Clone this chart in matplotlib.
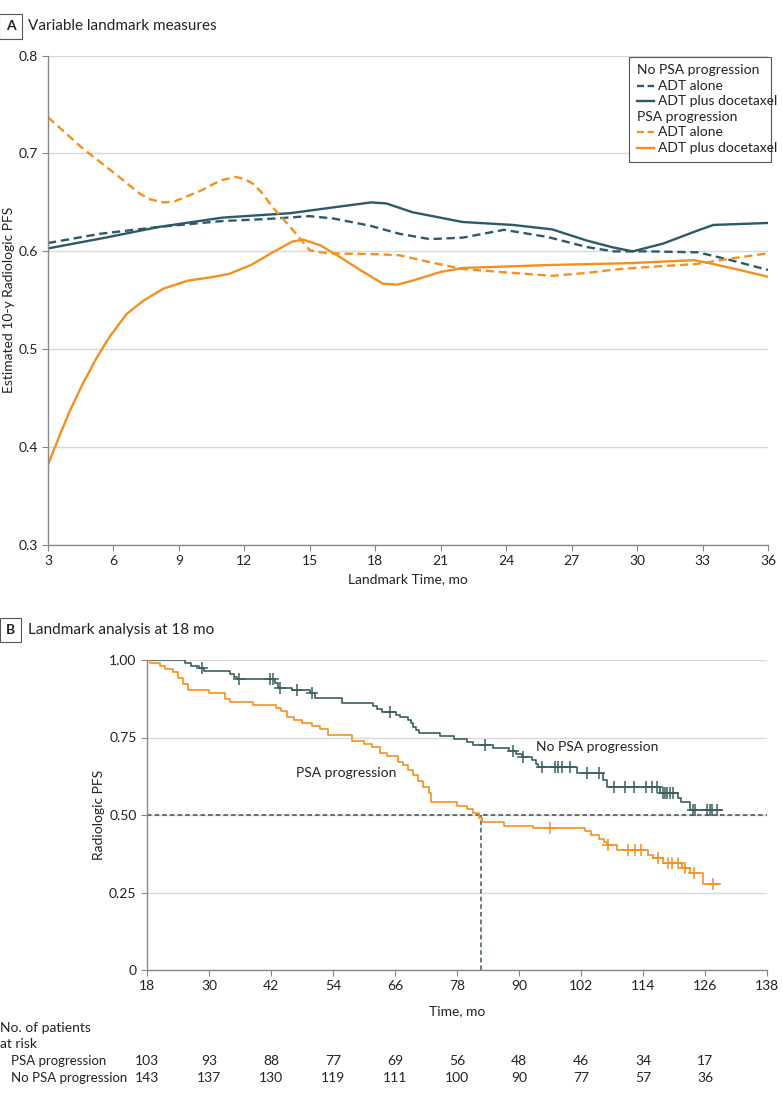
import numpy as np
import matplotlib
matplotlib.use('Agg')
import matplotlib.pyplot as plt
from matplotlib.patches import Rectangle

plt.rcParams['font.family'] = ['Lato', 'DejaVu Sans']
plt.rcParams['font.size'] = 10

# Colours
TEAL = '#2d5a6a'
ORANGE = '#f5901e'
GRID = '#d9d9d9'
TXT = '#222222'
FS = 10

# Panel A: estimated 10-y radiologic PFS by landmark time
np_docet_t = [3, 5.4, 8.1, 11.0, 14.1, 16.1, 17.8, 18.5, 19.7, 22.0, 24.3, 26.1, 27.7,
              28.9, 29.8, 31.2, 32.8, 33.5, 36]
np_docet_v = [0.603, 0.613, 0.625, 0.6345, 0.639, 0.645, 0.650, 0.649, 0.640, 0.630, 0.627,
              0.6225, 0.611, 0.604, 0.600, 0.608, 0.6215, 0.627, 0.629]
np_adt_t = [3, 5.4, 8.1, 11.0, 13.0, 15.0, 16.1, 17.8, 19.1, 20.5, 22.0, 23.9, 25.9, 27.7,
            28.9, 30.5, 32.8, 34.3, 36]
np_adt_v = [0.6085, 0.618, 0.625, 0.631, 0.633, 0.636, 0.6335, 0.626, 0.618, 0.6125, 0.614,
            0.622, 0.6147, 0.6044, 0.600, 0.600, 0.599, 0.591, 0.581]
pp_adt_t = [3, 4.6, 6.15, 7.2, 7.7, 8.3, 8.8, 9.35, 10.0, 10.6, 11.0, 11.6, 12.0, 12.4, 12.8,
            13.3, 14.1, 15.0, 15.8, 18.2, 19.1, 20.5, 22.0, 24.3, 26.1, 27.7, 29.2, 31.2,
            32.7, 34.4, 36]
pp_adt_v = [0.737, 0.705, 0.678, 0.659, 0.653, 0.650, 0.651, 0.656, 0.662, 0.669, 0.673,
            0.676, 0.674, 0.669, 0.660, 0.645, 0.625, 0.601, 0.598, 0.597, 0.596, 0.589,
            0.582, 0.578, 0.575, 0.578, 0.582, 0.585, 0.587, 0.593, 0.598]
pp_docet_t = [3, 3.5, 4.0, 4.6, 5.2, 5.8, 6.6, 7.4, 8.3, 9.4, 10.6, 11.3, 12.3, 13.3, 14.2,
              14.7, 15.5, 16.4, 17.3, 18.35, 19.0, 19.7, 21.0, 22.0, 25.9, 29.7, 32.6, 33.5,
              34.7, 36]
pp_docet_v = [0.382, 0.41, 0.437, 0.465, 0.49, 0.512, 0.536, 0.550, 0.562, 0.570, 0.574,
              0.577, 0.586, 0.599, 0.610, 0.612, 0.606, 0.594, 0.581, 0.567, 0.566, 0.570,
              0.579, 0.583, 0.586, 0.588, 0.591, 0.587, 0.581, 0.574]

# Panel B: Kaplan-Meier at 18 mo landmark
km_pp_t = [18, 18.5, 20.5, 21.5, 23.0, 24.0, 25.0, 26.0, 30.0, 33.0, 34.0, 38.5, 43.0, 44.0,
           45.0, 46.5, 48.0, 50.0, 51.5, 53.0, 57.7, 60.0, 61.5, 63.0, 64.5, 66.5, 67.5,
           68.5, 69.5, 70.5, 71.5, 72.5, 73.0, 78.0, 80.0, 81.0, 82.3, 82.8, 87.0, 92.7,
           102.8, 104.0, 105.5, 106.5, 107.0, 109.0, 115.0, 116.0, 117.9, 121.5, 123.1,
           125.6, 128.9]
km_pp_s = [1.0, 0.990, 0.981, 0.971, 0.961, 0.942, 0.922, 0.903, 0.893, 0.874, 0.864, 0.854,
           0.845, 0.835, 0.816, 0.806, 0.796, 0.786, 0.777, 0.757, 0.738, 0.728, 0.718,
           0.699, 0.689, 0.670, 0.660, 0.645, 0.630, 0.610, 0.590, 0.570, 0.542, 0.530,
           0.518, 0.506, 0.490, 0.477, 0.466, 0.458, 0.447, 0.436, 0.424, 0.413, 0.403,
           0.387, 0.372, 0.360, 0.344, 0.330, 0.312, 0.277, 0.277]
km_pp_cens = [96.0, 107.3, 111.0, 112.5, 113.6, 116.9, 118.8, 119.6, 120.8, 122.1, 123.8, 127.5]

km_np_t = [18, 25.3, 26.5, 28.0, 29.0, 34.0, 34.8, 35.5, 42.8, 43.3, 46.0, 49.5, 50.5, 55.7,
           61.7, 62.5, 63.5, 66.2, 67.0, 68.5, 69.0, 69.5, 70.0, 70.7, 74.7, 77.5, 80.0,
           81.0, 85.0, 88.0, 89.5, 90.5, 92.5, 93.2, 93.7, 101.2, 106.2, 107.0, 117.2,
           120.8, 121.3, 123.1, 129.3]
km_np_s = [1.0, 0.990, 0.981, 0.974, 0.965, 0.955, 0.945, 0.939, 0.925, 0.910, 0.902, 0.892,
           0.877, 0.861, 0.852, 0.842, 0.832, 0.823, 0.816, 0.806, 0.796, 0.785, 0.774,
           0.765, 0.755, 0.745, 0.736, 0.726, 0.716, 0.706, 0.697, 0.687, 0.677, 0.665,
           0.655, 0.635, 0.613, 0.590, 0.571, 0.555, 0.542, 0.516, 0.516]
km_np_cens = [28.6, 35.8, 41.8, 42.3, 43.7, 47.0, 50.0, 65.0, 83.4, 88.9, 90.8, 94.4, 97.0,
              97.6, 98.4, 99.9, 103.1, 105.4, 108.4, 110.5, 112.3, 114.6, 115.8, 116.8,
              117.8, 118.2, 118.6, 119.2, 119.8, 123.7, 124.1, 126.4, 127.0, 127.4, 128.3]

median_pp = 82.6

risk_times = [18, 30, 42, 54, 66, 78, 90, 102, 114, 126]
risk_pp = [103, 93, 88, 77, 69, 56, 48, 46, 34, 17]
risk_np = [143, 137, 130, 119, 111, 100, 90, 77, 57, 36]

W, H = 783, 1096
fig = plt.figure(figsize=(W / 100, H / 100), dpi=100)


def fx(px):
    return px / W


def fy(py):
    return 1 - py / H


def panel_title(letter, title, py):
    fig.text(fx(10.5), fy(py), letter, ha='center', va='center', fontsize=10,
             fontweight='bold', color=TXT,
             bbox=dict(boxstyle='square,pad=0.45', fc='white', ec='#555555', lw=0.8))
    fig.text(fx(28), fy(py), title, ha='left', va='center', fontsize=11, color=TXT)


def style_axes(ax):
    for s in ['top', 'right']:
        ax.spines[s].set_visible(False)
    for s in ['left', 'bottom']:
        ax.spines[s].set_color('#888888')
        ax.spines[s].set_linewidth(1.0)
    ax.tick_params(colors='#888888', labelcolor=TXT, labelsize=FS, length=4, width=0.8)


# ---- Panel A ----
panel_title('A', 'Variable landmark measures', 26.5)
axA = fig.add_axes([fx(48), fy(545), (768 - 48) / W, (545 - 55.6) / H])
style_axes(axA)
axA.set_xlim(3, 36)
axA.set_ylim(0.3, 0.8)
axA.set_xticks(np.arange(3, 37, 3))
axA.set_yticks([0.3, 0.4, 0.5, 0.6, 0.7, 0.8])
axA.set_yticklabels(['0.3', '0.4', '0.5', '0.6', '0.7', '0.8'])
axA.yaxis.grid(True, color=GRID, lw=1.0)
axA.set_axisbelow(True)
axA.plot(np_adt_t, np_adt_v, color=TEAL, lw=1.7, ls=(0, (3.5, 2)))
axA.plot(np_docet_t, np_docet_v, color=TEAL, lw=1.7)
axA.plot(pp_adt_t, pp_adt_v, color=ORANGE, lw=1.7, ls=(0, (3.5, 2)))
axA.plot(pp_docet_t, pp_docet_v, color=ORANGE, lw=1.7)
axA.set_xlabel('Landmark Time, mo', fontsize=FS, color=TXT)
axA.xaxis.set_label_coords(0.5, -0.058)
axA.set_ylabel('Estimated 10-y Radiologic PFS', fontsize=FS, color=TXT)
axA.yaxis.set_label_coords(-0.046, 0.5)

# legend drawn by hand (group headers flush with handles)
fig.patches.append(Rectangle((fx(629), fy(162)), (771 - 629) / W, (162 - 57) / H,
                             transform=fig.transFigure, fc='white', ec='#555555', lw=0.8,
                             zorder=5))
leg_rows = [('No PSA progression', None, None), ('ADT alone', TEAL, '--'),
            ('ADT plus docetaxel', TEAL, '-'), ('PSA progression', None, None),
            ('ADT alone', ORANGE, '--'), ('ADT plus docetaxel', ORANGE, '-')]
for i, (lab, col, ls) in enumerate(leg_rows):
    yy = fy(70 + i * 15.6)
    if col is None:
        fig.text(fx(637), yy, lab, ha='left', va='center', fontsize=FS, color=TXT, zorder=6)
    else:
        fig.lines.append(plt.Line2D([fx(637), fx(654)], [yy, yy], transform=fig.transFigure,
                                    color=col, lw=1.7,
                                    ls=(0, (3, 1.5)) if ls == '--' else '-', zorder=6))
        fig.text(fx(658), yy, lab, ha='left', va='center', fontsize=FS, color=TXT, zorder=6)

# ---- Panel B ----
panel_title('B', 'Landmark analysis at 18 mo', 630)
axB = fig.add_axes([fx(147), fy(970), (767 - 147) / W, (970 - 660) / H])
style_axes(axB)
axB.set_xlim(18, 138)
axB.set_ylim(0, 1.0)
axB.set_xticks(np.arange(18, 139, 12))
axB.set_yticks([0, 0.25, 0.5, 0.75, 1.0])
axB.set_yticklabels(['0', '0.25', '0.50', '0.75', '1.00'])
axB.yaxis.grid(True, color=GRID, lw=1.0)
axB.set_axisbelow(True)

axB.axhline(0.5, color='#3e4c52', lw=1.1, ls=(0, (3, 2)))
axB.plot([median_pp, median_pp], [0, 0.5], color='#3e5a60', lw=1.1, ls=(0, (3, 2)))

KM_TEAL = '#3b5f5f'
axB.step(km_np_t, km_np_s, where='post', color=KM_TEAL, lw=1.2)
axB.step(km_pp_t, km_pp_s, where='post', color=ORANGE, lw=1.2)


def surv_at(times, surv, t):
    i = np.searchsorted(times, t, side='right') - 1
    return np.asarray(surv)[i]


axB.plot(km_np_cens, surv_at(km_np_t, km_np_s, km_np_cens), ls='none', marker='+',
         ms=8, mew=1.1, color=KM_TEAL)
axB.plot(km_pp_cens, surv_at(km_pp_t, km_pp_s, km_pp_cens), ls='none', marker='+',
         ms=8, mew=1.1, color=ORANGE)

axB.text(fx(346), fy(773), 'PSA progression', transform=fig.transFigure, ha='center',
         va='center', fontsize=FS, color=TXT)
axB.text(fx(597), fy(747), 'No PSA progression', transform=fig.transFigure, ha='center',
         va='center', fontsize=FS, color=TXT)

axB.set_xlabel('Time, mo', fontsize=FS, color=TXT)
axB.xaxis.set_label_coords(0.5, -0.115)
axB.set_ylabel('Radiologic PFS', fontsize=FS, color=TXT)
axB.yaxis.set_label_coords(-0.068, 0.5)

# number at risk table
fig.text(fx(0), fy(1028), 'No. of patients', ha='left', va='center', fontsize=FS, color=TXT)
fig.text(fx(0), fy(1044), 'at risk', ha='left', va='center', fontsize=FS, color=TXT)
fig.text(fx(11), fy(1061), 'PSA progression', ha='left', va='center', fontsize=9.5,
         color=TXT)
fig.text(fx(11), fy(1078), 'No PSA progression', ha='left', va='center', fontsize=9.5,
         color=TXT)
tr = axB.get_xaxis_transform()
for t, a, b in zip(risk_times, risk_pp, risk_np):
    axB.annotate(str(a), xy=(t, 0), xycoords=tr, xytext=(t, fy(1061)),
                 textcoords=('data', 'figure fraction'), ha='center', va='center',
                 fontsize=FS, color=TXT, annotation_clip=False)
    axB.annotate(str(b), xy=(t, 0), xycoords=tr, xytext=(t, fy(1078)),
                 textcoords=('data', 'figure fraction'), ha='center', va='center',
                 fontsize=FS, color=TXT, annotation_clip=False)

fig.savefig('out.png', dpi=100)
